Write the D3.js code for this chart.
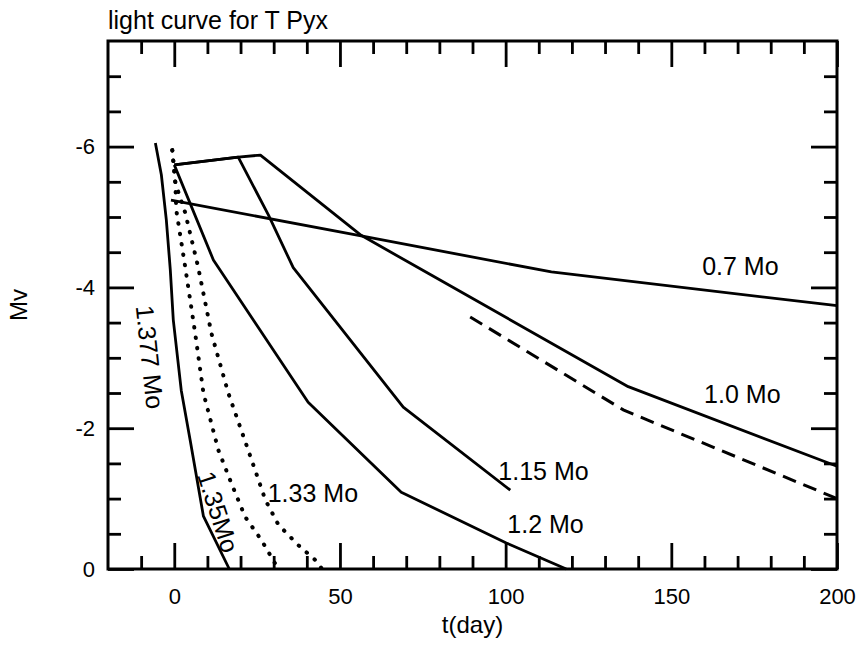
<!DOCTYPE html>
<html>
<head>
<meta charset="utf-8">
<script src="https://cdn.jsdelivr.net/npm/d3@7"></script>
<style>
  body { margin: 0; background: #fff; }
  text { font-family: "Liberation Sans", Arial, Helvetica, sans-serif; fill: #000; }
</style>
</head>
<body>
<svg id="chart"></svg>
<script>
// t(day), Mv pairs
const m0p7 = [[-1, -5.24], [57.6, -4.72], [113.8, -4.22], [200, -3.74]];
const m1p0 = [[0, -5.74], [19.3, -5.85], [26.0, -5.88], [56.4, -4.74], [76.6, -4.20], [137.0, -2.59], [200, -1.46]];
const m1p0obs = [[89.3, -3.58], [135.5, -2.26], [200, -1.0]];
const m1p15 = [[0, -5.74], [19.3, -5.85], [28.4, -5.03], [35.9, -4.28], [69.1, -2.30], [101.4, -1.12]];
const m1p2 = [[0, -5.74], [11.8, -4.39], [40.4, -2.37], [68.5, -1.09], [100.2, -0.37], [118.3, 0]];
const m1p33 = [[-0.6, -5.95], [0.3, -5.5], [1.2, -5.36], [3.3, -5.06], [7.2, -4.29], [11.2, -3.35], [16.3, -2.50],
               [22.3, -1.69], [27.5, -0.98], [31.4, -0.63], [37.4, -0.34], [42.5, -0.13], [44.6, 0]];
const m1p35 = [[-0.6, -5.95], [0.3, -5.5], [0.6, -5.10], [3.3, -4.29], [6.3, -3.35], [8.8, -2.50], [13.3, -1.69],
               [17.2, -1.22], [21.4, -0.74], [26.3, -0.41], [31.4, 0]];
const m1p377 = [[-5.7, -6.05], [-3.9, -5.60], [-2.4, -4.96], [-1.2, -4.25], [-0.3, -3.54], [2.1, -2.54],
                [4.8, -1.83], [8.8, -0.75], [16.6, 0]];

const xMajor = [0, 50, 100, 150, 200];
const yMajor = [0, -2, -4, -6];

function drawChart(svgSelector, width, height) {
    const svg = d3.select(svgSelector)
        .attr("width", width)
        .attr("height", height);

    const left = 108, right = 837, top = 41, bottom = 569;

    const x = d3.scaleLinear().domain([-20, 200]).range([left, right]);
    const y = d3.scaleLinear().domain([0, -7.5]).range([bottom, top]);

    const xMinor = d3.range(-10, 200, 10).filter(d => !xMajor.includes(d));
    const yMinor = d3.range(-0.5, -7.5, -0.5).filter(d => !yMajor.includes(d));

    // ticks point inward on all four sides
    const makeAxis = [d3.axisBottom, d3.axisTop, d3.axisLeft, d3.axisRight];
    const shifts = [`translate(0,${bottom})`, `translate(0,${top})`, `translate(${left},0)`, `translate(${right},0)`];
    makeAxis.forEach((mk, i) => {
        const isX = i < 2;
        const sc = isX ? x : y;
        const minorG = svg.append("g").attr("transform", shifts[i])
            .call(mk(sc).tickValues(isX ? xMinor : yMinor).tickSize(-13).tickFormat(""));
        minorG.select(".domain").remove();

        const majorAx = mk(sc).tickValues(isX ? xMajor : yMajor).tickSize(-26);
        if (i === 0) majorAx.tickPadding(19).tickFormat(d => d);
        else if (i === 2) majorAx.tickPadding(13).tickFormat(d => d);
        else majorAx.tickFormat("");
        const majorG = svg.append("g").attr("transform", shifts[i]).call(majorAx);
        majorG.select(".domain").remove();
        majorG.selectAll("text").attr("font-size", "22px")
            .attr("font-family", "Liberation Sans, Arial, sans-serif");
    });
    svg.selectAll(".tick line").attr("stroke", "#000").attr("stroke-width", 2.8);

    // frame
    svg.append("rect")
        .attr("x", left).attr("y", top)
        .attr("width", right - left).attr("height", bottom - top)
        .attr("fill", "none").attr("stroke", "#000").attr("stroke-width", 3);

    const line = d3.line().x(d => x(d[0])).y(d => y(d[1]));

    const solid = [m0p7, m1p0, m1p15, m1p2, m1p377];
    solid.forEach(s => {
        svg.append("path").attr("d", line(s))
            .attr("fill", "none").attr("stroke", "#000")
            .attr("stroke-width", 2.8).attr("stroke-linejoin", "round");
    });
    [m1p33, m1p35].forEach(s => {
        svg.append("path").attr("d", line(s))
            .attr("fill", "none").attr("stroke", "#000")
            .attr("stroke-width", 4).attr("stroke-linecap", "round")
            .attr("stroke-dasharray", "0.5 10");
    });
    svg.append("path").attr("d", line(m1p0obs))
        .attr("fill", "none").attr("stroke", "#000")
        .attr("stroke-width", 3).attr("stroke-dasharray", "14 8");

    // curve labels, anchored in data units
    const labels = [
        { text: "0.7 Mo", t: 159.3, mv: -4.18 },
        { text: "1.0 Mo", t: 159.9, mv: -2.36 },
        { text: "1.15 Mo", t: 97.8, mv: -1.26 },
        { text: "1.2 Mo", t: 100.5, mv: -0.51 },
        { text: "1.33 Mo", t: 28.2, mv: -0.95 }
    ];
    svg.selectAll(".clabel").data(labels).enter().append("text")
        .attr("class", "clabel")
        .attr("x", d => x(d.t)).attr("y", d => y(d.mv))
        .attr("font-size", "25px")
        .text(d => d.text);

    const rotLabels = [
        { text: "1.377 Mo", t: -7.3, mv: -3.01, angle: 84 },
        { text: "1.35Mo", t: 13.3, mv: -0.81, angle: 72 }
    ];
    svg.selectAll(".rlabel").data(rotLabels).enter().append("text")
        .attr("class", "rlabel")
        .attr("transform", d => `translate(${x(d.t)},${y(d.mv)}) rotate(${d.angle})`)
        .attr("text-anchor", "middle")
        .attr("dominant-baseline", "central")
        .attr("font-size", "25px")
        .text(d => d.text);

    // titles
    svg.append("text")
        .attr("x", left).attr("y", 29)
        .attr("font-size", "25px")
        .text("light curve for T Pyx");

    svg.append("text")
        .attr("x", (left + right) / 2).attr("y", 633)
        .attr("text-anchor", "middle")
        .attr("font-size", "24px")
        .text("t(day)");

    svg.append("text")
        .attr("transform", `translate(27,${(top + bottom) / 2}) rotate(-90)`)
        .attr("text-anchor", "middle")
        .attr("font-size", "24px")
        .text("Mv");
}

drawChart("#chart", 861, 646);
</script>
</body>
</html>
